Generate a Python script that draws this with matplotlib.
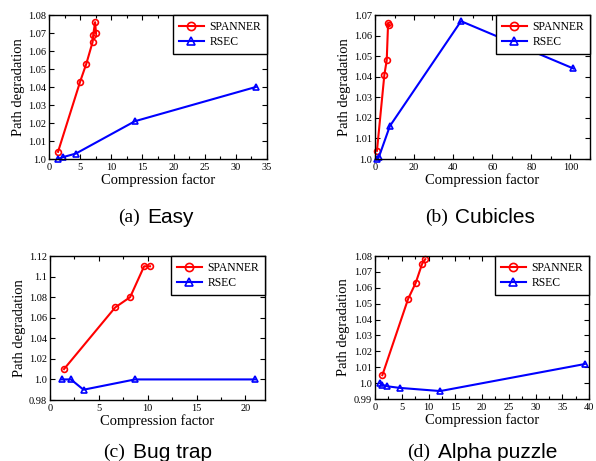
import matplotlib
matplotlib.use("Agg")
import matplotlib.pyplot as plt
from matplotlib.ticker import FixedLocator, FixedFormatter, AutoMinorLocator

# ---------------- data ----------------
# (a) Easy
easy_sp_x = [1.45, 5.0, 6.0, 7.0, 7.1, 7.4, 7.55]
easy_sp_y = [1.004, 1.043, 1.053, 1.065, 1.069, 1.076, 1.070]
easy_rs_x = [1.5, 2.2, 4.3, 13.8, 33.2]
easy_rs_y = [1.000, 1.001, 1.003, 1.021, 1.040]
easy_xticks = [0, 5, 10, 15, 20, 25, 30, 35]
easy_yticks = [1.0, 1.01, 1.02, 1.03, 1.04, 1.05, 1.06, 1.07, 1.08]
easy_ylabels = ["1.0", "1.01", "1.02", "1.03", "1.04", "1.05", "1.06", "1.07", "1.08"]

# (b) Cubicles
cub_sp_x = [1.0, 4.8, 6.0, 6.7, 7.3]
cub_sp_y = [1.004, 1.041, 1.048, 1.066, 1.065]
cub_rs_x = [0.8, 2.0, 7.6, 44.0, 101.5]
cub_rs_y = [1.000, 1.001, 1.016, 1.067, 1.044]
cub_xticks = [0, 20, 40, 60, 80, 100]
cub_yticks = [1.0, 1.01, 1.02, 1.03, 1.04, 1.05, 1.06, 1.07]
cub_ylabels = ["1.0", "1.01", "1.02", "1.03", "1.04", "1.05", "1.06", "1.07"]

# (c) Bug trap
bug_sp_x = [1.43, 6.67, 8.2, 9.63, 10.24]
bug_sp_y = [1.010, 1.070, 1.080, 1.110, 1.110]
bug_rs_x = [1.19, 2.14, 3.43, 8.7, 21.0]
bug_rs_y = [1.000, 1.000, 0.990, 1.000, 1.000]
bug_xticks = [0, 5, 10, 15, 20]
bug_yticks = [0.98, 1.0, 1.02, 1.04, 1.06, 1.08, 1.1, 1.12]
bug_ylabels = ["0.98", "1.0", "1.02", "1.04", "1.06", "1.08", "1.1", "1.12"]

# (d) Alpha puzzle
alpha_sp_x = [1.375, 6.19, 7.6, 8.8, 9.4]
alpha_sp_y = [1.005, 1.053, 1.063, 1.075, 1.078]
alpha_rs_x = [1.0, 1.3, 2.3, 4.6, 12.2, 39.2]
alpha_rs_y = [1.000, 0.999, 0.998, 0.997, 0.995, 1.012]
alpha_xticks = [0, 5, 10, 15, 20, 25, 30, 35, 40]
alpha_yticks = [0.99, 1.0, 1.01, 1.02, 1.03, 1.04, 1.05, 1.06, 1.07, 1.08]
alpha_ylabels = ["0.99", "1.0", "1.01", "1.02", "1.03", "1.04", "1.05", "1.06", "1.07", "1.08"]

captions_tag = ["(a)", "(b)", "(c)", "(d)"]
captions_name = ["Easy", "Cubicles", "Bug trap", "Alpha puzzle"]
series_names = ["SPANNER", "RSEC"]

# ---------------- figure ----------------
W, H = 596, 461
fig = plt.figure(figsize=(W / 100, H / 100), dpi=100)
SERIF = ["Liberation Serif", "DejaVu Serif"]
SANS = ["Liberation Sans", "DejaVu Sans"]


def rect(l, t, r, b):
    return [l / W, 1 - b / H, (r - l) / W, (b - t) / H]


panels = [
    dict(rect=rect(49, 15, 267, 159), sx=easy_sp_x, sy=easy_sp_y, rx=easy_rs_x, ry=easy_rs_y,
         xlim=(0, 35), ylim=(1.0, 1.08), xt=easy_xticks, yt=easy_yticks, yl=easy_ylabels),
    dict(rect=rect(375, 15, 590, 159), sx=cub_sp_x, sy=cub_sp_y, rx=cub_rs_x, ry=cub_rs_y,
         xlim=(0, 110), ylim=(1.0, 1.07), xt=cub_xticks, yt=cub_yticks, yl=cub_ylabels),
    dict(rect=rect(50, 256, 265, 400), sx=bug_sp_x, sy=bug_sp_y, rx=bug_rs_x, ry=bug_rs_y,
         xlim=(0, 22), ylim=(0.98, 1.12), xt=bug_xticks, yt=bug_yticks, yl=bug_ylabels),
    dict(rect=rect(375, 256, 589, 399), sx=alpha_sp_x, sy=alpha_sp_y, rx=alpha_rs_x, ry=alpha_rs_y,
         xlim=(0, 40), ylim=(0.99, 1.08), xt=alpha_xticks, yt=alpha_yticks, yl=alpha_ylabels),
]

cap_pos = [(156, 217), (480, 217), (158, 452), (482, 452)]

for i, p in enumerate(panels):
    ax = fig.add_axes(p["rect"])
    ax.plot(p["sx"], p["sy"], color="#ff0000", lw=1.5, marker="o", ms=4.2,
            mfc="none", mew=1.2, label=series_names[0], clip_on=False)
    ax.plot(p["rx"], p["ry"], color="#0000ff", lw=1.5, marker="^", ms=4.2,
            mfc="none", mew=1.2, label=series_names[1], clip_on=False)
    ax.set_xlim(*p["xlim"])
    ax.set_ylim(*p["ylim"])
    ax.xaxis.set_major_locator(FixedLocator(p["xt"]))
    ax.xaxis.set_major_formatter(FixedFormatter([str(v) for v in p["xt"]]))
    ax.yaxis.set_major_locator(FixedLocator(p["yt"]))
    ax.yaxis.set_major_formatter(FixedFormatter(p["yl"]))
    ax.xaxis.set_minor_locator(AutoMinorLocator(2))
    ax.tick_params(which="both", direction="in", top=True, right=True, width=0.8)
    ax.tick_params(which="major", length=3.5, labelsize=7.5)
    ax.tick_params(axis="y", which="major", pad=2)
    ax.tick_params(axis="x", which="major", pad=3)
    ax.tick_params(which="minor", length=2)
    for lab in ax.get_xticklabels() + ax.get_yticklabels():
        lab.set_family(SERIF)
    for s in ax.spines.values():
        s.set_linewidth(1.0)
    ax.set_xlabel("Compression factor", family=SERIF, fontsize=10.5, labelpad=1)
    ax.set_ylabel("Path degradation", family=SERIF, fontsize=10.5, labelpad=2.5)
    leg = ax.legend(loc="upper right", borderaxespad=0.0, fancybox=False,
                    edgecolor="black", framealpha=1, prop={"family": SERIF, "size": 8.4},
                    handlelength=2.1, handletextpad=0.5, borderpad=0.5,
                    labelspacing=0.3, markerscale=1.4)
    leg.get_frame().set_linewidth(1.0)

    cx, cy = cap_pos[i]
    t1 = fig.text(0, 1 - cy / H, captions_tag[i], family=SERIF, fontsize=14, va="center")
    t2 = fig.text(0, 1 - cy / H, captions_name[i], family=SANS, fontsize=15, va="center")
    p["cap"] = (t1, t2, cx)

fig.canvas.draw()
r = fig.canvas.get_renderer()
gap = 8
for p in panels:
    t1, t2, cx = p["cap"]
    w1 = t1.get_window_extent(r).width
    w2 = t2.get_window_extent(r).width
    total = w1 + gap + w2
    x0 = cx - total / 2
    t1.set_x(x0 / W)
    t2.set_x((x0 + w1 + gap) / W)

fig.savefig("out.png", dpi=100)
